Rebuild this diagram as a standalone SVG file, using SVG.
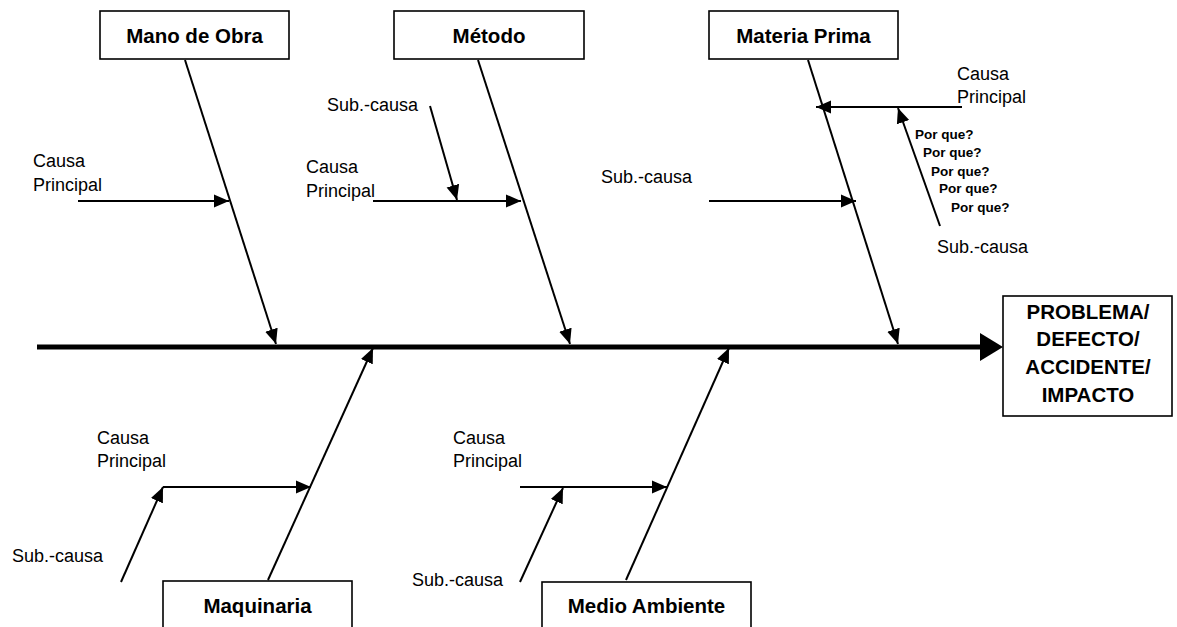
<svg xmlns="http://www.w3.org/2000/svg" width="1177" height="627" viewBox="0 0 1177 627">
<defs>
<style>
.box{fill:#fff;stroke:#000;stroke-width:1.6}
.lbl{font-family:"Liberation Sans",Arial,sans-serif;font-weight:bold;font-size:20.5px;fill:#000;text-anchor:middle}
.t{font-family:"Liberation Sans",Arial,sans-serif;font-size:18px;fill:#000}
.pq{font-family:"Liberation Sans",Arial,sans-serif;font-weight:bold;font-size:13.5px;fill:#000}
.bone{stroke:#000;stroke-width:2;fill:none;marker-end:url(#arr)}
</style>
<marker id="arr" markerUnits="userSpaceOnUse" markerWidth="15" markerHeight="14" refX="15" refY="7" orient="auto">
<path d="M0,0.5 L15,7 L0,13.5 z" fill="#000"/>
</marker>
</defs>
<g id="connectors">
<line x1="37" y1="347" x2="984" y2="347" stroke="#000" stroke-width="5"/>
<path d="M980,333 L1003,347 L980,361 z" fill="#000"/>
<line class="bone" x1="185" y1="60" x2="276" y2="344"/>
<line class="bone" x1="478" y1="60" x2="570" y2="344"/>
<line class="bone" x1="808" y1="60" x2="898" y2="344"/>
<line class="bone" x1="268" y1="580" x2="373" y2="348"/>
<line class="bone" x1="626" y1="580" x2="729" y2="348"/>
<line class="bone" x1="78" y1="201" x2="229" y2="201"/>
<line class="bone" x1="373" y1="201" x2="521" y2="201"/>
<line class="bone" x1="430" y1="106" x2="457" y2="200"/>
<line class="bone" x1="709" y1="201" x2="856" y2="201"/>
<line class="bone" x1="962" y1="107" x2="816" y2="107"/>
<line class="bone" x1="940" y1="226" x2="898" y2="108"/>
<line class="bone" x1="163" y1="487" x2="311" y2="487"/>
<line class="bone" x1="121" y1="582" x2="163" y2="487"/>
<line class="bone" x1="520" y1="487" x2="667" y2="487"/>
<line class="bone" x1="520" y1="582" x2="563" y2="488"/>
</g>
<g id="mano-de-obra">
<rect class="box" x="100" y="11" width="189" height="48"/>
<text class="lbl" x="194.5" y="43">Mano de Obra</text>
</g>
<g id="metodo">
<rect class="box" x="394" y="11" width="190" height="48"/>
<text class="lbl" x="489" y="43">Método</text>
</g>
<g id="materia-prima">
<rect class="box" x="709" y="11" width="189" height="48"/>
<text class="lbl" x="803.5" y="43">Materia Prima</text>
</g>
<g id="maquinaria">
<rect class="box" x="163" y="581" width="189" height="60"/>
<text class="lbl" x="257.5" y="613">Maquinaria</text>
</g>
<g id="medio-ambiente">
<rect class="box" x="542" y="582" width="209" height="60"/>
<text class="lbl" x="646.5" y="613">Medio Ambiente</text>
</g>
<g id="problema">
<rect class="box" x="1003" y="296" width="169" height="120"/>
<text class="lbl" x="1088" y="319">PROBLEMA/</text>
<text class="lbl" x="1088" y="346">DEFECTO/</text>
<text class="lbl" x="1088" y="374">ACCIDENTE/</text>
<text class="lbl" x="1088" y="402">IMPACTO</text>
</g>
<g id="labels">
<text class="t" x="33" y="167">Causa</text>
<text class="t" x="33" y="191">Principal</text>
<text class="t" x="306" y="173">Causa</text>
<text class="t" x="306" y="197">Principal</text>
<text class="t" x="327" y="111">Sub.-causa</text>
<text class="t" x="601" y="183">Sub.-causa</text>
<text class="t" x="957" y="80">Causa</text>
<text class="t" x="957" y="103">Principal</text>
<text class="t" x="937" y="253">Sub.-causa</text>
<text class="pq" x="915" y="139">Por que?</text>
<text class="pq" x="923" y="157">Por que?</text>
<text class="pq" x="931" y="176">Por que?</text>
<text class="pq" x="939" y="193">Por que?</text>
<text class="pq" x="951" y="212">Por que?</text>
<text class="t" x="97" y="444">Causa</text>
<text class="t" x="97" y="467">Principal</text>
<text class="t" x="12" y="562">Sub.-causa</text>
<text class="t" x="453" y="444">Causa</text>
<text class="t" x="453" y="467">Principal</text>
<text class="t" x="412" y="586">Sub.-causa</text>
</g>
</svg>
